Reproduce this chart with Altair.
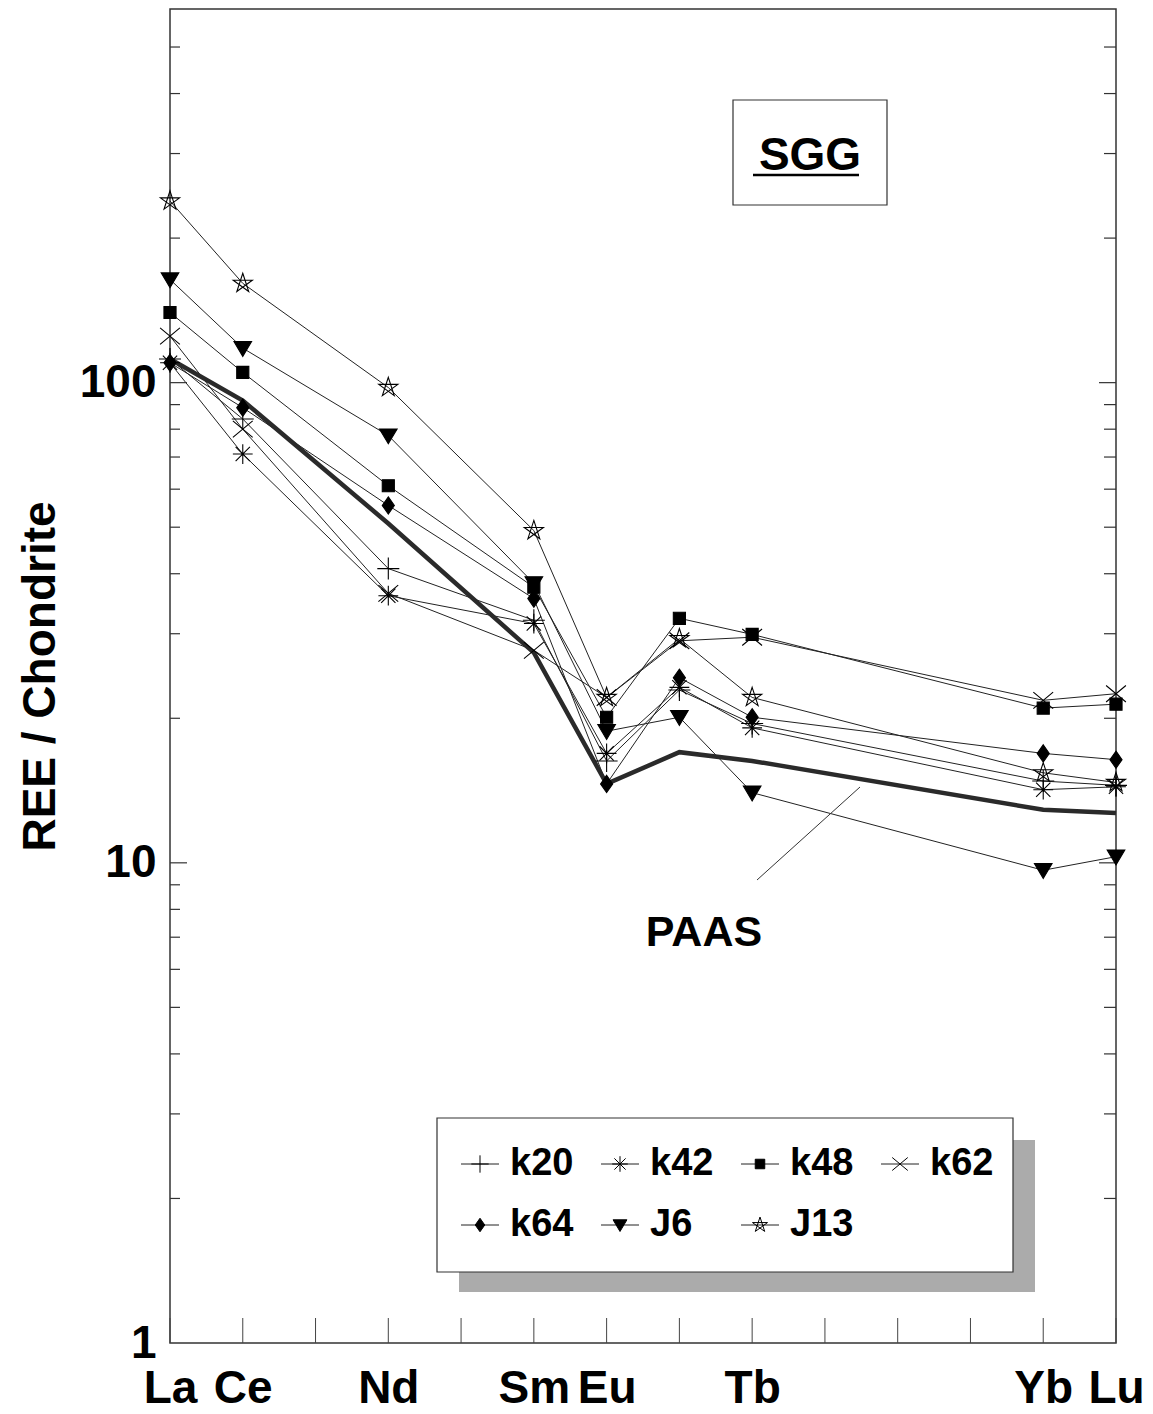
import altair as alt
import pandas as pd

# ---------------- data ----------------
elements = ["La", "Ce", "Nd", "Sm", "Eu", "Gd", "Tb", "Yb", "Lu"]
element_pos = [0, 1, 3, 5, 6, 7, 8, 12, 13]
axis_labels = ["La", "Ce", "Nd", "Sm", "Eu", "Tb", "Yb", "Lu"]
axis_pos = [0, 1, 3, 5, 6, 8, 12, 13]
tick_pos = list(range(14))

series_names = ["k20", "k42", "k48", "k62", "k64", "J6", "J13"]
k20 = [112, 84, 41, 32, 16.3, 22.9, 19.5, 14.8, 14.5]
k42 = [110, 71, 36, 31.5, 16.9, 23.2, 19.1, 14.2, 14.4]
k48 = [140, 105, 61, 37.5, 20.1, 32.3, 29.9, 21.0, 21.4]
k62 = [125, 80, 36.4, 27.7, 22.1, 29.0, 29.5, 21.8, 22.5]
k64 = [110, 88.7, 55.5, 35.5, 14.6, 24.3, 20.1, 16.9, 16.4]
J6 = [164, 118, 77.6, 38.2, 18.8, 20.1, 14.0, 9.65, 10.3]
J13 = [239, 161, 97.7, 49.2, 22.1, 29.3, 22.1, 15.4, 14.7]
series_values = [k20, k42, k48, k62, k64, J6, J13]
paas = [112, 91.8, 50.9, 27.4, 14.6, 17.0, 16.3, 12.9, 12.7]

y_minor = [2, 3, 4, 5, 6, 7, 8, 9, 20, 30, 40, 50, 60, 70, 80, 90, 200, 300, 400, 500]
y_major = [10, 100]

# ---------------- styles ----------------
FONT = "Liberation Sans"
W, H = 946, 1334

shape_paths = [
    "M-1,0H1M0,-1V1",  # plus
    "M-0.9,0H0.9M0,-0.9V0.9M-0.65,-0.65L0.65,0.65M-0.65,0.65L0.65,-0.65",  # asterisk
    "M-0.55,-0.55H0.55V0.55H-0.55Z",  # square
    "M-0.9,-0.75L0.9,0.75M-0.9,0.75L0.9,-0.75",  # x
    "M0,-0.78L0.55,0L0,0.78L-0.55,0Z",  # diamond
    "M-0.8,-0.6L0.8,-0.6L0,0.75Z",  # triangle down
    "M0,-0.92L0.54,0.74L-0.87,-0.28L0.87,-0.28L-0.54,0.74Z",  # pentagram
]
fills = ["transparent", "transparent", "black", "transparent", "black", "black", "transparent"]

rows = []
for name, vals in zip(series_names, series_values):
    for el, p, v in zip(elements, element_pos, vals):
        rows.append({"series": name, "element": el, "pos": p, "value": v})
df = pd.DataFrame(rows)
paas_df = pd.DataFrame({"element": elements, "pos": element_pos, "value": paas})

xscale = alt.Scale(domain=[0, 13], nice=False, zero=False)
yscale = alt.Scale(type="log", domain=[1, 600], nice=False)
shape_scale = alt.Scale(domain=series_names, range=shape_paths)
fill_scale = alt.Scale(domain=series_names, range=fills)

label_expr = " : ".join(
    f"datum.value == {p} ? '{l}'" for p, l in zip(axis_pos, axis_labels)
) + " : ''"

xaxis = alt.Axis(values=axis_pos, labelExpr=label_expr, title=None, ticks=False,
                 domain=False, grid=False, labelFontSize=46, labelFontWeight="bold",
                 labelFont=FONT, labelColor="black", labelPadding=23,
                 labelOverlap=False, labelFlush=False)
yaxis = alt.Axis(values=[1, 10, 100], format="d", title="REE / Chondrite",
                 ticks=False, domain=False, grid=False, labelFontSize=46,
                 labelFontWeight="bold", labelFont=FONT, labelColor="black",
                 labelPadding=14, titleFontSize=46, titleFontWeight="bold",
                 titleFont=FONT, titleColor="black", titlePadding=15)

X = alt.X("pos:Q", scale=xscale, axis=xaxis, title=None)
Y = alt.Y("value:Q", scale=yscale, axis=yaxis, title="REE / Chondrite")

lines = alt.Chart(df).mark_line(color="#222", strokeWidth=1).encode(
    x=X, y=Y, detail="series:N", order="pos:Q")

paas_line = alt.Chart(paas_df).mark_line(color="#2a2a2a", strokeWidth=4.5).encode(
    x=X, y=Y, order="pos:Q")

points = alt.Chart(df).mark_point(filled=True, opacity=1, size=484, stroke="black",
                                  strokeWidth=1.1).encode(
    x=X, y=Y,
    shape=alt.Shape("series:N", scale=shape_scale, legend=None),
    fill=alt.Fill("series:N", scale=fill_scale, legend=None))

# axis ticks (inward)
xt = pd.DataFrame({"pos": tick_pos})
x_ticks = alt.Chart(xt).mark_rule(color="#444", strokeWidth=1).encode(
    x=X, y=alt.value(H), y2=alt.value(H - 25))

ymin = pd.DataFrame({"value": y_minor})
ymaj = pd.DataFrame({"value": y_major})
def ytick(data, x0, x1):
    return alt.Chart(data).mark_rule(color="#333", strokeWidth=1.2).encode(
        y=Y, x=alt.value(x0), x2=alt.value(x1))
y_ticks = [ytick(ymin, 0, 10), ytick(ymaj, 0, 17), ytick(ymin, W, W - 12), ytick(ymaj, W, W - 17)]

one = pd.DataFrame({"a": [0]})
# SGG box
sgg_box = alt.Chart(one).mark_rect(fill="white", stroke="#333", strokeWidth=1.2).encode(
    x=alt.value(563), x2=alt.value(717), y=alt.value(91), y2=alt.value(196))
sgg_text = alt.Chart(one).mark_text(text="SGG", fontSize=46, fontWeight="bold", font=FONT,
                                    align="center", baseline="alphabetic", color="black").encode(
    x=alt.value(640), y=alt.value(161))
sgg_ul = alt.Chart(one).mark_rule(color="black", strokeWidth=2.5).encode(
    x=alt.value(583), x2=alt.value(689), y=alt.value(166))

# PAAS label
paas_text = alt.Chart(one).mark_text(text="PAAS", fontSize=43, fontWeight="bold", font=FONT,
                                     align="center", baseline="alphabetic", color="black").encode(
    x=alt.value(534), y=alt.value(937))
paas_leader = alt.Chart(one).mark_rule(color="#333", strokeWidth=1).encode(
    x=alt.value(587), y=alt.value(871), x2=alt.value(690), y2=alt.value(778))

# legend
leg_shadow1 = alt.Chart(one).mark_rect(fill="#ababab").encode(
    x=alt.value(289), x2=alt.value(865), y=alt.value(1263), y2=alt.value(1283))
leg_shadow2 = alt.Chart(one).mark_rect(fill="#ababab").encode(
    x=alt.value(843), x2=alt.value(865), y=alt.value(1131), y2=alt.value(1283))
leg_box = alt.Chart(one).mark_rect(fill="white", stroke="#333", strokeWidth=1.2).encode(
    x=alt.value(267), x2=alt.value(843), y=alt.value(1109), y2=alt.value(1263))

leg_rows = []
for i, name in enumerate(series_names):
    col, row = i % 4, i // 4
    cx = 310 + col * 140
    cy = 1155 + row * 61
    leg_rows.append({"series": name, "lx": cx, "ly": cy, "x1": cx - 19, "x2": cx + 19,
                     "tx": cx + 30})
leg_df = pd.DataFrame(leg_rows)

leg_lines = alt.Chart(leg_df).mark_rule(color="#222", strokeWidth=1).encode(
    x=alt.X("x1:Q", scale=None, axis=None), x2="x2:Q",
    y=alt.Y("ly:Q", scale=None, axis=None))
leg_points = alt.Chart(leg_df).mark_point(filled=True, opacity=1, size=300, stroke="black",
                                          strokeWidth=1).encode(
    x=alt.X("lx:Q", scale=None, axis=None), y=alt.Y("ly:Q", scale=None, axis=None),
    shape=alt.Shape("series:N", scale=shape_scale, legend=None),
    fill=alt.Fill("series:N", scale=fill_scale, legend=None))
leg_text = alt.Chart(leg_df).mark_text(align="left", baseline="middle", fontSize=38,
                                       fontWeight="bold", font=FONT, color="black").encode(
    x=alt.X("tx:Q", scale=None, axis=None), y=alt.Y("ly:Q", scale=None, axis=None),
    text="series:N")

chart = alt.layer(
    lines, *y_ticks, x_ticks, paas_line, points,
    sgg_box, sgg_text, sgg_ul, paas_leader, paas_text,
    leg_shadow1, leg_shadow2, leg_box, leg_lines, leg_points, leg_text,
).properties(
    width=W, height=H,
    padding={"left": 162, "top": 1, "right": 29, "bottom": 63},
    autosize=alt.AutoSizeParams(type="none"),
    background="white",
).configure_view(stroke="#333", strokeWidth=1.5)

chart.save("out.html", embed_options={"renderer": "svg", "actions": False})
